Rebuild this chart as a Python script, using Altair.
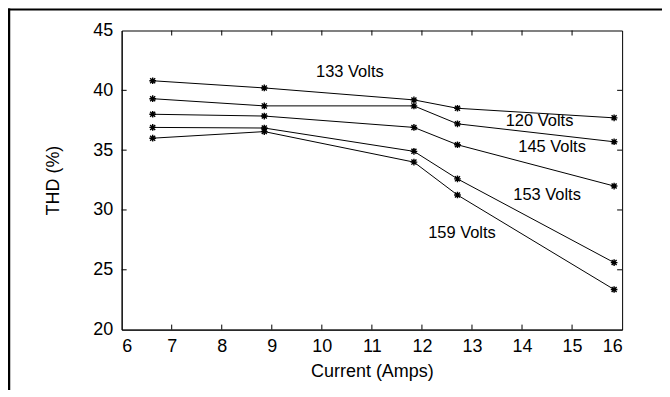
import altair as alt
import pandas as pd

# ---- data ----
current = [6.62, 8.85, 11.84, 12.71, 15.84]
thd_a = [40.8, 40.2, 39.2, 38.5, 37.7]
thd_b = [39.3, 38.7, 38.7, 37.2, 35.7]
thd_c = [38.0, 37.85, 36.9, 35.45, 32.0]
thd_d = [36.9, 36.85, 34.9, 32.6, 25.6]
thd_e = [36.0, 36.55, 34.0, 31.25, 23.35]
series_names = ["A", "B", "C", "D", "E"]

label_text = ["133 Volts", "120 Volts", "145 Volts", "153 Volts", "159 Volts"]
label_x = [10.56, 14.35, 14.6, 14.5, 12.8]
label_y = [41.5, 37.4, 35.25, 31.25, 28.1]

x_ticks = list(range(6, 17))
y_ticks = [20, 25, 30, 35, 40, 45]

# ---- build tables ----
rows = []
for name, vals in zip(series_names, [thd_a, thd_b, thd_c, thd_d, thd_e]):
    for c, v in zip(current, vals):
        rows.append({"series": name, "current": c, "thd": v})
df = pd.DataFrame(rows)
labels = pd.DataFrame({"text": label_text, "current": label_x, "thd": label_y})
xt = pd.DataFrame({"current": x_ticks[1:-1]})
yt = pd.DataFrame({"thd": y_ticks[1:-1]})

W, H = 502, 300
FONT = "Liberation Sans"
xs = alt.Scale(domain=[6, 16], nice=False, zero=False)
ys = alt.Scale(domain=[20, 45], nice=False, zero=False)
x_axis = alt.Axis(values=x_ticks, title="Current (Amps)", tickSize=0,
                  labelPadding=8, titlePadding=7, grid=False, format="d")
y_axis = alt.Axis(values=y_ticks, title="THD (%)", tickSize=0,
                  labelPadding=9, titlePadding=30, grid=False, format="d")
X = alt.X("current:Q", scale=xs, axis=x_axis)
Y = alt.Y("thd:Q", scale=ys, axis=y_axis)

asterisk = "M-1,0L1,0M0,-1L0,1M-0.75,-0.75L0.75,0.75M-0.75,0.75L0.75,-0.75"

base = alt.Chart(df)
lines = base.mark_line(color="black", strokeWidth=1).encode(
    x=X, y=Y, detail="series:N")
points = base.mark_point(shape=asterisk, filled=False, color="black",
                         size=45, strokeWidth=1.4, opacity=1).encode(x=X, y=Y)
text = alt.Chart(labels).mark_text(font=FONT, fontSize=16.5, color="black",
                                   align="center", baseline="middle").encode(
    x=X, y=Y, text="text:N")
xtick_b = alt.Chart(xt).mark_rule(color="black").encode(
    x=X, y=alt.value(H), y2=alt.value(H - 5))
xtick_t = alt.Chart(xt).mark_rule(color="black").encode(
    x=X, y=alt.value(0), y2=alt.value(5))
ytick_l = alt.Chart(yt).mark_rule(color="black").encode(
    y=Y, x=alt.value(0), x2=alt.value(5))
ytick_r = alt.Chart(yt).mark_rule(color="black").encode(
    y=Y, x=alt.value(W - 5), x2=alt.value(W))

border_top = alt.Chart(labels.head(1)).mark_rule(color="black", strokeWidth=2).encode(
    x=alt.value(-114), x2=alt.value(W + 40), y=alt.value(-21))
border_left = alt.Chart(labels.head(1)).mark_rule(color="black", strokeWidth=2.5).encode(
    x=alt.value(-113), y=alt.value(-22), y2=alt.value(H + 70))

chart = alt.layer(
    lines, points, text, xtick_b, xtick_t, ytick_l, ytick_r, border_top, border_left
).properties(
    width=W, height=H, background="white",
    autosize=alt.AutoSizeParams(type="none"),
    padding={"left": 114, "top": 22, "right": 40, "bottom": 60},
).configure_view(
    stroke="black", strokeWidth=1
).configure_axis(
    domainColor="black", domainWidth=1, labelColor="black", titleColor="black",
    labelFont=FONT, titleFont=FONT, labelFontSize=18, titleFontSize=18,
    titleFontWeight="normal",
)

chart.save("out.html", embed_options={"renderer": "svg", "actions": False})
